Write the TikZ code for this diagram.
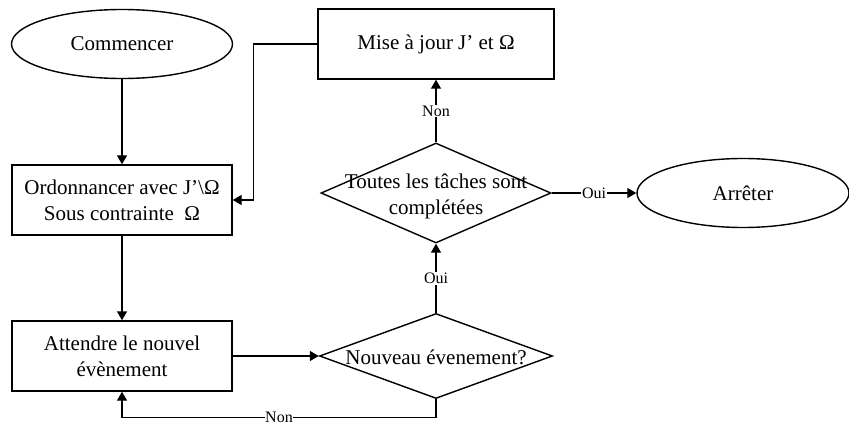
\documentclass[tikz,border=0pt]{standalone}
\usepackage{fontspec}
\setmainfont{Liberation Serif}
\usetikzlibrary{shapes.geometric,arrows.meta}

% text of a decision, kept out of the diamond's size
\newcommand{\decidetext}[1]{\smash{\makebox[0pt]{\raisebox{-8.5pt}{\begin{tabular}{@{}c@{}}#1\end{tabular}}}}}

\begin{document}
\begin{tikzpicture}[x=1pt,y=-1pt,
        line width=1.4pt,
        every node/.style={font=\fontsize{21}{26}\selectfont},
        process/.style={draw,rectangle,minimum width=220pt,minimum height=70pt,align=center,inner sep=0pt},
        terminal/.style={draw,ellipse,minimum height=69pt,inner sep=0pt},
        decide/.style={draw,diamond,inner sep=0pt},
        lbl/.style={fill=white,inner sep=1pt,font=\fontsize{16}{18}\selectfont},
        arr/.style={-{Triangle[length=9pt,width=10pt]}}]
    \useasboundingbox (0,0) rectangle (849,425);

    % left column
    \node[terminal,minimum width=221pt] (start) at (122,44)  {Commencer};
    \node[process]                      (sched) at (122,200) {Ordonnancer avec J’\textbackslash Ω\\Sous contrainte~~Ω};
    \node[process]                      (wait)  at (122,356) {Attendre le nouvel\\évènement};

    % right part
    \node[process,minimum width=236pt]  (upd)   at (436,44)  {Mise à jour J’ et Ω};
    \node[decide,minimum width=230pt,minimum height=100pt] (done)  at (436,193) {\decidetext{Toutes les tâches sont\\complétées}};
    \node[decide,minimum width=233pt,minimum height=85pt]  (newev) at (436,356) {\decidetext{Nouveau évenement?}};
    \node[terminal,minimum width=212pt] (stop)  at (743,193) {Arrêter};

    \draw[arr] (start) -- (sched);
    \draw[arr] (sched) -- (wait);
    \draw[arr] (wait.east) -- (newev.west);
    \draw[arr] (newev.south) -- ++(0,18) -| node[lbl,pos=0.25,inner sep=0.5pt] {Non} (wait.south);
    \draw[arr] (newev.north) -- node[lbl] {Oui} (done.south);
    \draw[arr] (done.north) -- node[lbl] {Non} (upd.south);
    \draw[arr] (done.east) -- node[lbl] {Oui} (stop.west);
    \draw[arr] (upd.west) -- ++(-64,0) |- (sched.east);
\end{tikzpicture}
\end{document}
